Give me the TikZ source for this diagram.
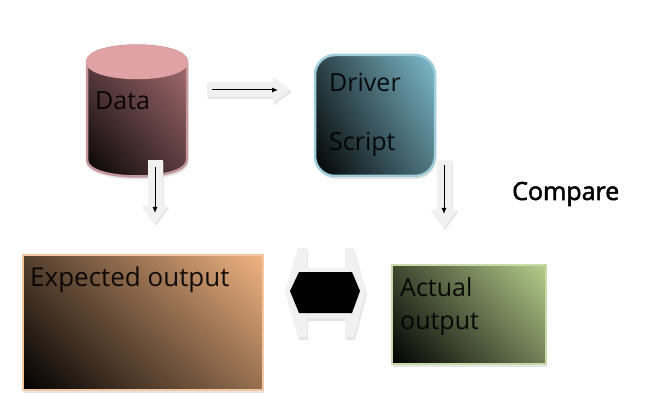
\documentclass[tikz,border=0pt]{standalone}
\usepackage{fontspec}
\setmainfont{Open Sans}
\newfontfamily\comparefont{Open Sans}[FakeBold=2]
\usetikzlibrary{arrows.meta,shadows,shadings}
\definecolor{datacol}{HTML}{B07478}
\definecolor{dataend}{HTML}{E0A2A5}
\definecolor{drivercol}{HTML}{7FBDCE}
\definecolor{expectcol}{HTML}{F2B482}
\definecolor{actualcol}{HTML}{B6CE8C}
\definecolor{blockcol}{HTML}{F1F1F1}
\begin{document}
\begin{tikzpicture}[x=1pt,y=-1pt]
% Default looks for each kind of node
\tikzstyle{lbl} = [font=\fontsize{25}{28}\selectfont, inner sep=0pt, anchor=base west, opacity=.9]
\tikzstyle{grad} = [lower left=black, upper right=#1, upper left=#1!35!black, lower right=#1!62!black, draw=#1!75!white]
\tikzstyle{softshadow} = [drop shadow={opacity=.2, shadow xshift=1pt, shadow yshift=-3pt}]
\tikzstyle{box} = [shape=rectangle, line width=2.5pt, inner sep=0pt, softshadow]
\tikzstyle{block} = [draw=blockcol, line width=15pt, -{Triangle[width=25pt,length=18pt,fill=blockcol]}]
\tikzstyle{blockshadow} = [draw=black!25, line width=15pt, opacity=.4, transform canvas={shift={(1pt,-2pt)}}, -{Triangle[width=25pt,length=18pt,fill=black!25]}]
\tikzstyle{thinline} = [black, line width=1pt, -{Latex[length=6pt,width=5pt]}]
\useasboundingbox (0,0) rectangle (662,417);
% Define and draw the cylinder
\shadedraw [grad=datacol, upper left=datacol!60!black, lower right=datacol!48!black, line width=2.5pt, softshadow] (87,62) -- (87,160) .. controls (87,182) and (187,182) .. (187,160) -- (187,62) .. controls (187,40) and (87,40) .. cycle;
\fill [dataend] (86,62) .. controls (86,39) and (188,39) .. (188,62) .. controls (188,85) and (86,85) .. cycle;
% Define and draw the three boxes
\node [box, grad=drivercol, rounded corners=20pt, minimum width=120pt, minimum height=121pt] (driver) at (375,115.5) {};
\node [box, grad=expectcol, minimum width=240pt, minimum height=135pt] (expected) at (143,322.5) {};
\node [box, grad=actualcol, minimum width=154pt, minimum height=99pt] (actual) at (469,314.5) {};
% Labels
\node [lbl] (datatext) at (95,110) {Data};
\node [lbl] (drivertext) at (329,92) {Driver};
\node [lbl] (scripttext) at (329,151) {Script};
\node [lbl, font=\fontsize{26}{28}\selectfont] (expectedtext) at (30,286) {Expected output};
\node [lbl] (actualtext) at (400,296) {Actual};
\node [lbl] (outputtext) at (400,329) {output};
\node [lbl, opacity=1, font=\fontsize{25}{28}\comparefont] (comparetext) at (512,200) {Compare};
% Free ends of the block arrows
\coordinate (d1) at (207,90);
\coordinate (d2) at (291,90);
\coordinate (t1) at (212,90);
\coordinate (t2) at (278,90);
\coordinate (e1) at (155,160);
\coordinate (e2) at (155,224);
\coordinate (f1) at (155,167);
\coordinate (f2) at (155,213);
\coordinate (a1) at (444,160);
\coordinate (a2) at (444,228);
\coordinate (b1) at (444,165);
\coordinate (b2) at (444,214);
% Draw block arrows
\draw [blockshadow] (d1) -- (d2);
\draw [block] (d1) -- (d2);
\draw [thinline] (t1) -- (t2);
\draw [blockshadow] (e1) -- (e2);
\draw [block] (e1) -- (e2);
\draw [thinline] (f1) -- (f2);
\draw [blockshadow] (a1) -- (a2);
\draw [block] (a1) -- (a2);
\draw [thinline] (b1) -- (b2);
% The compare arrow
\fill [black!25, opacity=.4, transform canvas={shift={(1pt,-3pt)}}] (298,248) -- (307,248) -- (307,268) -- (345,268) -- (345,248) -- (354,248) -- (366,291) -- (354,337) -- (345,337) -- (345,318) -- (307,318) -- (307,337) -- (298,337) -- (285,291) -- cycle;
\fill [blockcol] (298,248) -- (307,248) -- (307,268) -- (345,268) -- (345,248) -- (354,248) -- (366,291) -- (354,337) -- (345,337) -- (345,318) -- (307,318) -- (307,337) -- (298,337) -- (285,291) -- cycle;
\fill [black] (290,291) -- (299,272) -- (352,272) -- (360,291) -- (352,313) -- (299,313) -- cycle;
\end{tikzpicture}
\end{document}
